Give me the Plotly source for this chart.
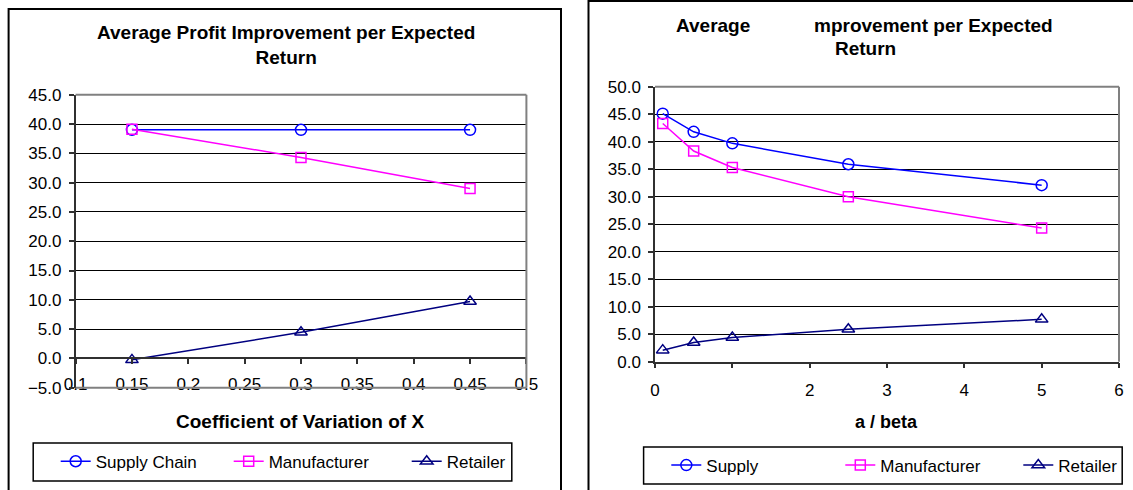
import plotly.graph_objects as go

W, H = 1133, 490

# ---------------- data ----------------
cv_x = [0.15, 0.3, 0.45]
cv_supply_chain = [39.0, 39.0, 39.0]
cv_manufacturer = [39.1, 34.3, 29.0]
cv_retailer = [-0.25, 4.45, 9.7]

ab_x = [0.1, 0.5, 1.0, 2.5, 5.0]
ab_supply = [45.1, 41.8, 39.7, 35.9, 32.1]
ab_manufacturer = [43.3, 38.3, 35.3, 30.0, 24.3]
ab_retailer = [2.1, 3.5, 4.4, 5.9, 7.7]

left_xticks = [0.1, 0.15, 0.2, 0.25, 0.3, 0.35, 0.4, 0.45, 0.5]
left_xticktext = ["0.1", "0.15", "0.2", "0.25", "0.3", "0.35", "0.4", "0.45", "0.5"]
right_xticks = [0, 1, 2, 3, 4, 5, 6]
right_xticktext = ["0", "", "2", "3", "4", "5", "6"]

names_left = ["Supply Chain", "Manufacturer", "Retailer"]
names_right = ["Supply", "Manufacturer", "Retailer"]

C_SUPPLY = "#0000FF"
C_MANU = "#FF00FF"
C_RET = "#000080"

FONT = "Liberation Sans, Arial, sans-serif"


def px(x):
    return x / W


def py(y):
    return 1 - y / H


fig = go.Figure()

styles = [
    (C_SUPPLY, "circle-open", 11),
    (C_MANU, "square-open", 10),
    (C_RET, "triangle-up-open", 11),
]

left_series = [cv_supply_chain, cv_manufacturer, cv_retailer]
left_lw = [128, 133, 60]
for name, ys, (col, sym, sz), lw in zip(names_left, left_series, styles, left_lw):
    fig.add_trace(go.Scatter(
        x=cv_x, y=ys, name=name, mode="lines+markers",
        line=dict(color=col, width=1.5),
        marker=dict(symbol=sym, size=sz, color=col, line=dict(color=col, width=1.5)),
        xaxis="x", yaxis="y", legend="legend", legendwidth=lw,
    ))

right_series = [ab_supply, ab_manufacturer, ab_retailer]
right_lw = [129, 133, 60]
for name, ys, (col, sym, sz), lw in zip(names_right, right_series, styles, right_lw):
    fig.add_trace(go.Scatter(
        x=ab_x, y=ys, name=name, mode="lines+markers",
        line=dict(color=col, width=1.5),
        marker=dict(symbol=sym, size=sz, color=col, line=dict(color=col, width=1.5)),
        xaxis="x2", yaxis="y2", legend="legend2", legendwidth=lw,
    ))

tickfont = dict(family=FONT, size=17, color="black")
AXC = "#303030"

# left domains
lx0, lx1 = px(75.6), px(526.4)
ly0, ly1 = py(387.7), py(94.7)
# right domains
rx0, rx1 = px(655), px(1119)
ry0, ry1 = py(361.7), py(86.7)

zero_pos = ly0 + (0 - (-5)) / 50 * (ly1 - ly0)

fig.update_layout(
    width=W, height=H,
    margin=dict(l=0, r=0, t=0, b=0, autoexpand=False),
    paper_bgcolor="white", plot_bgcolor="white",
    font=dict(family=FONT, color="black"),
    showlegend=True,
    xaxis=dict(
        domain=[lx0, lx1], range=[0.1, 0.5], anchor="free", position=zero_pos,
        tickvals=left_xticks, ticktext=left_xticktext, tickfont=tickfont,
        showgrid=False, zeroline=False, showline=True, linecolor=AXC, linewidth=1.5,
        ticks="outside", ticklen=5, tickcolor=AXC, tickwidth=1.5, ticklabelstandoff=5,
        fixedrange=True,
    ),
    yaxis=dict(
        domain=[ly0, ly1], range=[-5, 45], anchor="x", dtick=5, tick0=0,
        tickformat=".1f", tickfont=tickfont,
        showgrid=True, gridcolor="black", gridwidth=1, zeroline=False,
        showline=True, linecolor=AXC, linewidth=1.5,
        ticks="outside", ticklen=5, tickcolor=AXC, tickwidth=1.5, ticklabelstandoff=4,
        fixedrange=True,
    ),
    xaxis2=dict(
        domain=[rx0, rx1], range=[0, 6], anchor="y2",
        tickvals=right_xticks, ticktext=right_xticktext, tickfont=tickfont,
        showgrid=False, zeroline=False, showline=True, linecolor=AXC, linewidth=1.5,
        ticks="outside", ticklen=5, tickcolor=AXC, tickwidth=1.5, ticklabelstandoff=7,
        fixedrange=True,
    ),
    yaxis2=dict(
        domain=[ry0, ry1], range=[0, 50], anchor="x2", dtick=5, tick0=0,
        tickformat=".1f", tickfont=tickfont,
        showgrid=True, gridcolor="black", gridwidth=1, zeroline=False,
        showline=True, linecolor=AXC, linewidth=1.5,
        ticks="outside", ticklen=5, tickcolor=AXC, tickwidth=1.5, ticklabelstandoff=4,
        fixedrange=True,
    ),
    legend=dict(
        orientation="h", x=px(55.7), xanchor="left", y=py(461.7), yanchor="middle",
        bgcolor="rgba(0,0,0,0)", borderwidth=0, font=dict(family=FONT, size=17, color="black"),
    ),
    legend2=dict(
        orientation="h", x=px(666.3), xanchor="left", y=py(465.5), yanchor="middle",
        bgcolor="rgba(0,0,0,0)", borderwidth=0, font=dict(family=FONT, size=17, color="black"),
    ),
)

shapes = []
# outer chart borders
shapes.append(dict(type="rect", xref="paper", yref="paper", x0=px(8.6), x1=px(561), y0=py(520), y1=py(9),
                   line=dict(color="black", width=2), fillcolor="rgba(0,0,0,0)", layer="below"))
shapes.append(dict(type="rect", xref="paper", yref="paper", x0=px(588.5), x1=px(1160), y0=py(520), y1=py(1),
                   line=dict(color="black", width=2), fillcolor="rgba(0,0,0,0)", layer="below"))
# plot-area frames (gray): left = top, right, bottom; right = top, right
FR = "#808080"
for xr, yr, segs in [
    ("x domain", "y domain", [(0, 1, 1, 1), (1, 0, 1, 1), (0, 0, 1, 0)]),
    ("x2 domain", "y2 domain", [(0, 1, 1, 1), (1, 0, 1, 1)]),
]:
    for x0, y0, x1, y1 in segs:
        shapes.append(dict(type="line", xref=xr, yref=yr, x0=x0, y0=y0, x1=x1, y1=y1,
                           line=dict(color=FR, width=2), layer="above"))
# legend boxes
shapes.append(dict(type="rect", xref="paper", yref="paper", x0=px(33.2), x1=px(511.8), y0=py(481), y1=py(443),
                   line=dict(color="black", width=1.5), fillcolor="rgba(0,0,0,0)"))
shapes.append(dict(type="rect", xref="paper", yref="paper", x0=px(643.6), x1=px(1122.2), y0=py(484), y1=py(447),
                   line=dict(color="black", width=1.5), fillcolor="rgba(0,0,0,0)"))
fig.update_layout(shapes=shapes)

tfont = dict(family=FONT, size=19, color="black", weight="bold")
ann = [
    dict(text="Average Profit Improvement per Expected<br>Return", x=px(286), y=py(45.3)),
    dict(text="Average", x=px(712.8), y=py(26)),
    dict(text="mprovement per Expected", x=px(933.7), y=py(26)),
    dict(text="Return", x=px(865.7), y=py(49)),
]
for a in ann:
    fig.add_annotation(xref="paper", yref="paper", showarrow=False, xanchor="center", yanchor="middle",
                       font=tfont, **a)
fig.add_annotation(text="Coefficient of Variation of X", x=px(300), y=py(421), xref="paper", yref="paper",
                   showarrow=False, xanchor="center", yanchor="middle",
                   font=dict(family=FONT, size=19, color="black", weight="bold"))
fig.add_annotation(text="a / beta", x=px(886.6), y=py(421.7), xref="paper", yref="paper",
                   showarrow=False, xanchor="center", yanchor="middle",
                   font=dict(family=FONT, size=18, color="black", weight="bold"))

fig.write_html(
    "out.html",
    config={"displayModeBar": False},
    post_script="document.body.style.margin='0';document.body.style.padding='0';",
)
